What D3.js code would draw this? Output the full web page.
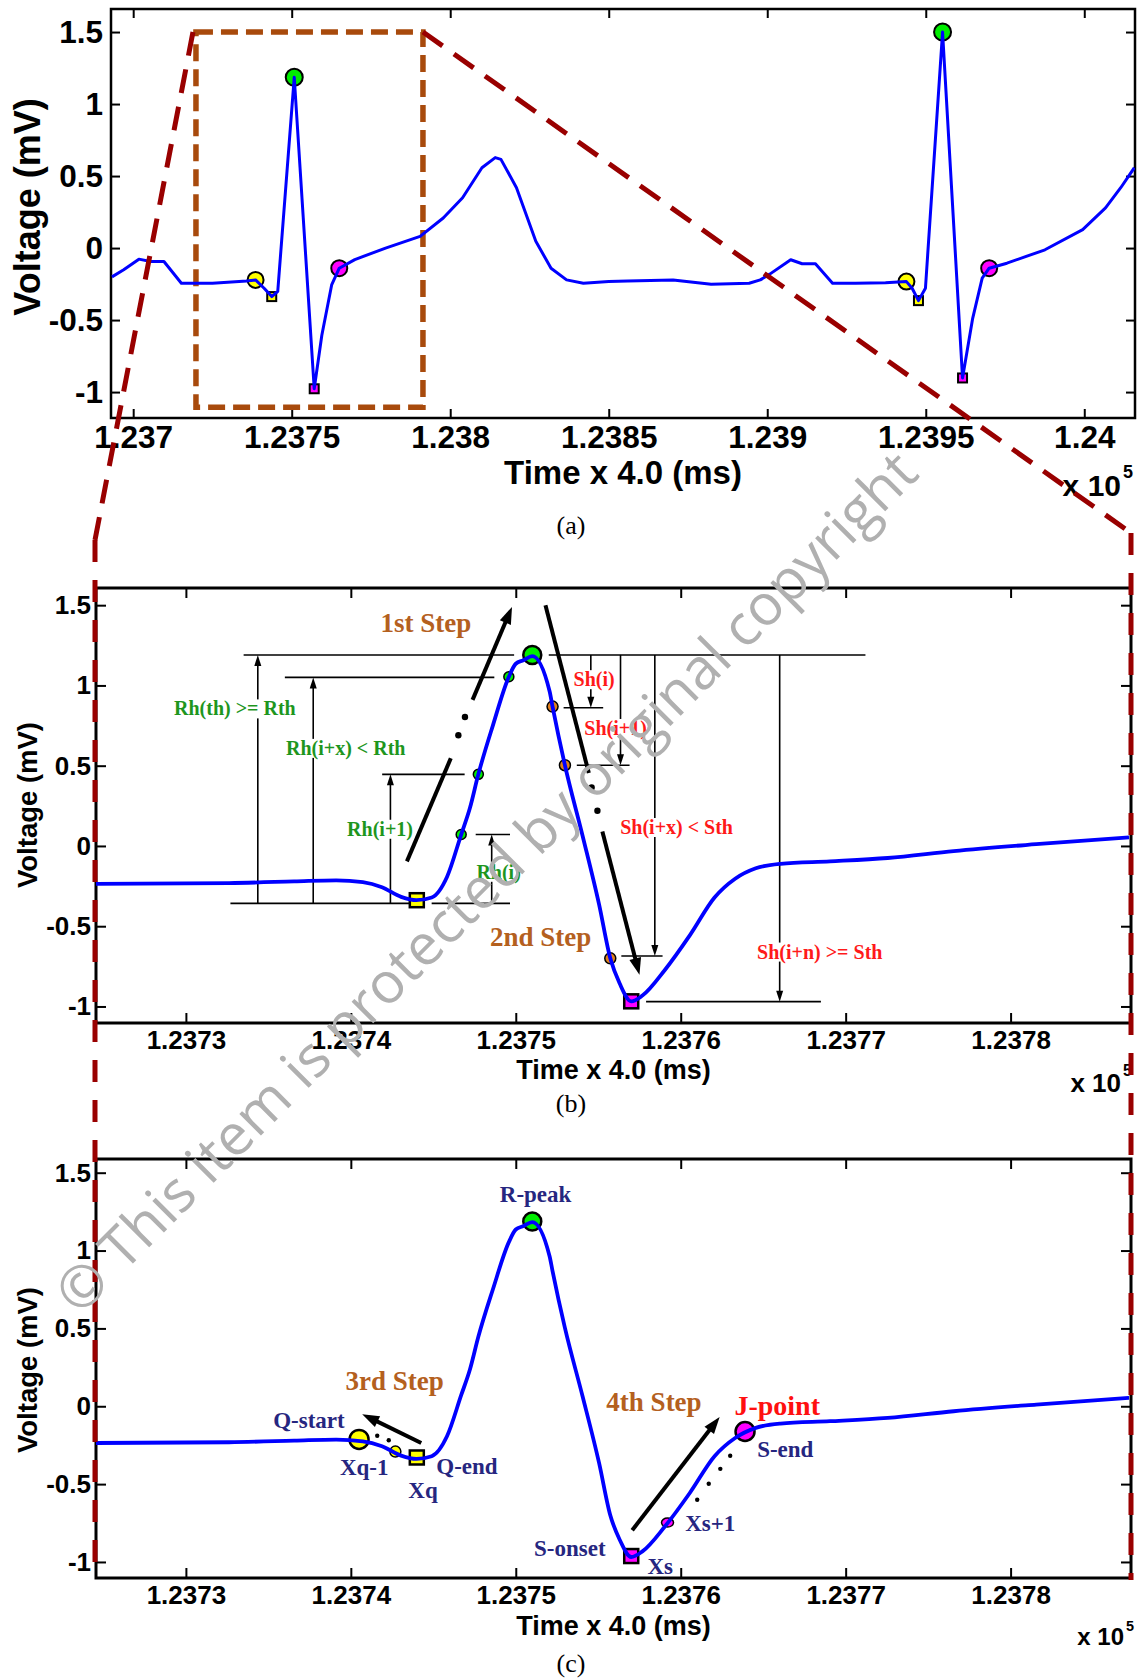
<!DOCTYPE html>
<html><head><meta charset="utf-8">
<script src="https://cdn.jsdelivr.net/npm/d3@7/dist/d3.min.js"></script>
<style>html,body{margin:0;padding:0;background:#fff}svg{display:block}</style>
</head><body>
<svg id="fig" width="1147" height="1680"></svg>
<script>
// ================= DATA =================
// (a) overview ECG (time in units of 1e5 * 4 ms, voltage in mV)
const overviewTime = [1.236933,1.236970,1.237018,1.237055,1.237097,1.237152,1.237250,1.237358,1.237386,1.237413,1.237437,1.237456,1.237508,1.237571,1.237595,1.237626,1.237650,1.237699,1.237796,1.237905,1.237978,1.238039,1.238100,1.238142,1.238160,1.238209,1.238270,1.238318,1.238367,1.238420,1.238500,1.238560,1.238703,1.238823,1.238943,1.238978,1.239008,1.239074,1.239110,1.239152,1.239206,1.239278,1.239373,1.239439,1.239457,1.239477,1.239499,1.239553,1.239616,1.239648,1.239678,1.239700,1.239756,1.239876,1.239995,1.240067,1.240115,1.240158];
const overviewVolt = [-0.20,-0.151,-0.077,-0.093,-0.093,-0.244,-0.244,-0.228,-0.221,-0.279,-0.337,-0.30,1.186,-0.977,-0.605,-0.256,-0.14,-0.08,0.0,0.081,0.209,0.349,0.558,0.628,0.616,0.419,0.047,-0.14,-0.221,-0.244,-0.233,-0.228,-0.221,-0.251,-0.244,-0.221,-0.181,-0.081,-0.109,-0.109,-0.244,-0.244,-0.240,-0.233,-0.279,-0.365,-0.279,1.50,-0.902,-0.488,-0.209,-0.14,-0.105,-0.012,0.128,0.279,0.419,0.558];
const overviewQStart = [[1.237386,-0.221],[1.239439,-0.233]];
const overviewQEnd   = [[1.237437,-0.337],[1.239477,-0.365]];
const overviewR      = [[1.237508,1.186],[1.239553,1.50]];
const overviewS      = [[1.237571,-0.977],[1.239616,-0.902]];
const overviewJ      = [[1.237650,-0.14],[1.239700,-0.14]];
const zoomBoxTime = [1.237198, 1.237914];
const zoomBoxVolt = [-1.105, 1.5];

// (b),(c) zoomed beat
const detailTime = [1.2372451,1.2373262,1.2373656,1.2373911,1.2374073,1.2374189,1.2374305,1.2374397,1.2374490,1.2374583,1.2374669,1.2374722,1.2374773,1.2374861,1.2374958,1.2375000,1.2375046,1.2375100,1.2375205,1.2375223,1.2375298,1.2375405,1.2375505,1.2375573,1.2375630,1.2375700,1.2375768,1.2375905,1.2376055,1.2376205,1.2376330,1.2376455,1.2376605,1.2376905,1.2377255,1.2377655,1.2378155,1.2378718];
const detailVolt = [-0.236,-0.231,-0.221,-0.214,-0.225,-0.257,-0.317,-0.338,-0.321,-0.193,0.071,0.236,0.446,0.75,1.054,1.135,1.157,1.183,0.964,0.868,0.503,0.064,-0.364,-0.700,-0.857,-0.968,-0.932,-0.771,-0.557,-0.321,-0.204,-0.139,-0.111,-0.096,-0.075,-0.032,0.011,0.054];

// ticks
const overviewXTicks = [1.237,1.2375,1.238,1.2385,1.239,1.2395,1.24];
const overviewXTickLabels = ["1.237","1.2375","1.238","1.2385","1.239","1.2395","1.24"];
const detailXTicks = [1.2373,1.2374,1.2375,1.2376,1.2377,1.2378];
const detailXTickLabels = ["1.2373","1.2374","1.2375","1.2376","1.2377","1.2378"];
const yTicks = [-1,-0.5,0,0.5,1,1.5];
const yTickLabels = ["-1","-0.5","0","0.5","1","1.5"];

// (b) annotations: [t, v]
const bQEnd = [[1.23744,-0.338]];
const bR = [[1.23751,1.19]];
const bRisePts = [[1.2374669,0.071],[1.2374773,0.446],[1.2374958,1.054]];
const bFallPts = [[1.2375223,0.868],[1.2375298,0.503],[1.2375573,-0.700]];
const bS = [[1.23757,-0.968]];
const bRefLines = [[1.237335,1.237499,1.19],[1.237520,1.237712,1.19],[1.237360,1.237487,1.05],[1.237419,1.237469,0.446],[1.2374757,1.2374965,0.071],[1.237327,1.237436,-0.358],[1.237449,1.2374965,-0.358],[1.237529,1.237553,0.861],[1.237537,1.237569,0.503],[1.237564,1.237589,-0.686],[1.237579,1.237685,-0.970]];
const bMeasureArrows = [[1.2373436,-0.358,1.19],[1.2373772,-0.358,1.05],[1.237424,-0.358,0.446],[1.2374854,-0.358,0.071],[1.2375455,1.19,0.861],[1.2375635,1.19,0.503],[1.2375843,1.19,-0.686],[1.23766,1.19,-0.97]];
const bStepSegments = [[1.237434,-0.096,1.2374606,0.546,0],[1.2374738,0.910,1.2374977,1.489,1],[1.237518,1.5,1.2375443,0.454,0],[1.2375525,0.090,1.237575,-0.803,1]];
const bStepDots = [[1.2374652,0.690],[1.2374692,0.803],[1.237546,0.364],[1.2375495,0.219]];
const bLabels = [
  ["1st Step",1.2374455,1.388,"step"],["2nd Step",1.2375151,-0.568,"step"],
  ["Rh(th) >= Rth",1.2373297,0.857,"rise"],["Rh(i+x) < Rth",1.2373969,0.611,"rise"],
  ["Rh(i+1)",1.2374177,0.107,"rise"],["Rh(i)",1.2374896,-0.161,"rise"],
  ["Sh(i)",1.2375475,1.039,"fall"],["Sh(i+1)",1.2375605,0.735,"fall"],
  ["Sh(i+x) < Sth",1.2375975,0.118,"fall"],["Sh(i+n) >= Sth",1.2376843,-0.658,"fall"]];

// (c) annotations
const cQStart = [[1.237405,-0.213]];
const cXq1 = [[1.237427,-0.291]];
const cQEnd = [[1.23744,-0.329]];
const cR = [[1.23751,1.187]];
const cSOnset = [[1.23757,-0.962]];
const cXs1 = [[1.237592,-0.747]];
const cJ = [[1.237639,-0.162]];
const cArrows = [[1.2374427,-0.236,1.2374069,-0.051],[1.2375706,-0.796,1.2376236,-0.069]];
const cDots = [[1.237416,-0.189],[1.237423,-0.218],[1.23761,-0.60],[1.237617,-0.498],[1.237624,-0.402],[1.23763,-0.318]];
const cLabels = [
  ["R-peak",1.237512,1.36,"name"],["3rd Step",1.2374265,0.16,"step"],
  ["Q-start",1.2373746,-0.089,"name"],["Xq-1",1.2374081,-0.396,"name"],
  ["Xq",1.2374438,-0.54,"name"],["Q-end",1.2374704,-0.384,"name"],
  ["S-onset",1.2375328,-0.913,"name"],["Xs",1.2375876,-1.029,"name"],
  ["Xs+1",1.2376179,-0.751,"name"],["4th Step",1.2375838,0.027,"step"],
  ["J-point",1.2376585,0.004,"jp"],["S-end",1.2376634,-0.278,"name"]];

// ================= DRAWING =================
const svg = d3.select('#fig');
const SANS = '"Liberation Sans", Arial, Helvetica, sans-serif';
const SERIF = '"Liberation Serif", "Times New Roman", Times, serif';
const COL = {blue:'#0000ff', yellow:'#ffff00', green:'#00ee00', magenta:'#ff00ff', orange:'#e0801c',
  step:'#b4601e', rise:'#1e961e', fall:'#ff1a1a', name:'#262680', jp:'#ff1010', maroon:'#990000', box:'#a84a0c', wm:'#b0b0b0'};

function makePanel(o) {
  const x = d3.scaleLinear().domain(o.xDomain).range([o.left, o.right]);
  const y = d3.scaleLinear().domain(o.yDomain).range([o.bottom, o.top]);
  const g = svg.append('g');
  const style = sel => {
    sel.select('.domain').remove();
    sel.attr('font-size', null).attr('font-family', null);
    sel.selectAll('line').attr('stroke', '#000').attr('stroke-width', 2);
    sel.selectAll('text').attr('fill', '#000').attr('font-family', SANS).attr('font-weight', 'bold').attr('font-size', o.fs);
  };
  g.append('g').attr('transform', `translate(0,${o.bottom})`)
    .call(d3.axisBottom(x).tickValues(o.xTicks).tickFormat((d, i) => o.xTickLabels[i]).tickSize(-o.tick).tickPadding(o.xPad)).call(style);
  g.append('g').attr('transform', `translate(0,${o.top})`)
    .call(d3.axisTop(x).tickValues(o.xTicks).tickFormat(() => '').tickSize(-o.tick)).call(style);
  g.append('g').attr('transform', `translate(${o.left},0)`)
    .call(d3.axisLeft(y).tickValues(yTicks).tickFormat((d, i) => yTickLabels[i]).tickSize(-o.tick).tickPadding(o.yPad)).call(style);
  g.append('g').attr('transform', `translate(${o.right},0)`)
    .call(d3.axisRight(y).tickValues(yTicks).tickFormat(() => '').tickSize(-o.tick)).call(style);
  g.append('rect').attr('x', o.left).attr('y', o.top).attr('width', o.right - o.left).attr('height', o.bottom - o.top)
    .attr('fill', 'none').attr('stroke', '#000').attr('stroke-width', o.frameW);
  // axis labels
  g.append('text').attr('x', (o.left + o.right) / 2).attr('y', o.xLabelY).attr('text-anchor', 'middle')
    .attr('font-family', SANS).attr('font-weight', 'bold').attr('font-size', o.lfs).text('Time x 4.0 (ms)');
  g.append('text').attr('transform', `translate(${o.yLabelX},${o.yLabelY}) rotate(-90)`).attr('text-anchor', 'middle')
    .attr('dominant-baseline', 'central').attr('font-family', SANS).attr('font-weight', 'bold').attr('font-size', o.ylfs).text('Voltage (mV)');
  g.append('text').attr('x', o.expX).attr('y', o.expY).attr('text-anchor', 'end')
    .attr('font-family', SANS).attr('font-weight', 'bold').attr('font-size', o.efs).text('x 10');
  g.append('text').attr('x', o.expX + 2).attr('y', o.expY - o.efs * 0.6).attr('text-anchor', 'start')
    .attr('font-family', SANS).attr('font-weight', 'bold').attr('font-size', o.efs * 0.6).text('5');
  g.append('text').attr('x', 571).attr('y', o.capY).attr('text-anchor', 'middle').attr('dominant-baseline', 'central')
    .attr('font-family', SERIF).attr('font-size', 26).text(o.cap);
  // clip
  const id = 'clip' + o.cap.replace(/\W/g, '');
  svg.append('clipPath').attr('id', id).append('rect').attr('x', o.left).attr('y', o.top)
    .attr('width', o.right - o.left).attr('height', o.bottom - o.top);
  const plot = g.append('g');
  const lineG = g.append('g').attr('clip-path', `url(#${id})`);
  return {x, y, g: plot, lineG};
}

function drawSignal(P, t, v, width, curve) {
  P.lineG.append('path').datum(d3.zip(t, v))
    .attr('d', d3.line().x(d => P.x(d[0])).y(d => P.y(d[1])).curve(curve))
    .attr('fill', 'none').attr('stroke', COL.blue).attr('stroke-width', width).attr('stroke-linejoin', 'round');
}
function circles(P, pts, r, fill, sw = 2) {
  P.g.selectAll(null).data(pts).enter().append('circle')
    .attr('cx', d => P.x(d[0])).attr('cy', d => P.y(d[1])).attr('r', r)
    .attr('fill', fill).attr('stroke', '#000').attr('stroke-width', sw);
}
function squares(P, pts, s, fill, sw = 2) {
  P.g.selectAll(null).data(pts).enter().append('rect')
    .attr('x', d => P.x(d[0]) - s / 2).attr('y', d => P.y(d[1]) - s / 2).attr('width', s).attr('height', s)
    .attr('fill', fill).attr('stroke', '#000').attr('stroke-width', sw);
}
function dots(P, pts, r) {
  P.g.selectAll(null).data(pts).enter().append('circle')
    .attr('cx', d => P.x(d[0])).attr('cy', d => P.y(d[1])).attr('r', r).attr('fill', '#000');
}
function arrow(g, x1, y1, x2, y2, w, hl, hw, head) {
  const a = Math.atan2(y2 - y1, x2 - x1);
  const bx = x2 - hl * Math.cos(a), by = y2 - hl * Math.sin(a);
  g.append('line').attr('x1', x1).attr('y1', y1).attr('x2', head ? x2 - hl * 0.6 * Math.cos(a) : x2)
    .attr('y2', head ? y2 - hl * 0.6 * Math.sin(a) : y2).attr('stroke', '#000').attr('stroke-width', w);
  if (head) {
    const px = -Math.sin(a) * hw / 2, py = Math.cos(a) * hw / 2;
    g.append('path').attr('d', `M${x2},${y2}L${bx + px},${by + py}L${bx - px},${by - py}Z`).attr('fill', '#000');
  }
}
function labelText(P, txt, t, v, color, size, bg) {
  const el = P.g.append('text').attr('x', P.x(t)).attr('y', P.y(v)).attr('text-anchor', 'middle')
    .attr('dominant-baseline', 'central').attr('font-family', SERIF).attr('font-weight', 'bold')
    .attr('font-size', size).attr('fill', color).text(txt);
  if (bg) {
    const bb = el.node().getBBox();
    P.g.insert('rect', () => el.node()).attr('x', bb.x - 1).attr('y', bb.y + 2).attr('width', bb.width + 2)
      .attr('height', bb.height - 4).attr('fill', '#fff');
  }
}

// ---- panel (a)
const A = makePanel({left:111, right:1135, top:9, bottom:418, xDomain:[1.23693,1.24016], yDomain:[-1.18,1.66],
  xTicks:overviewXTicks, xTickLabels:overviewXTickLabels, tick:9, fs:31.5, lfs:33, ylfs:36, efs:30, xPad:8, yPad:8, frameW:2.5,
  xLabelY:484, yLabelX:27, yLabelY:207, expX:1121, expY:496, capY:525, cap:'(a)'});
drawSignal(A, overviewTime, overviewVolt, 3, d3.curveLinear);
circles(A, overviewQStart, 8, COL.yellow);
squares(A, overviewQEnd, 9, COL.yellow);
circles(A, overviewR, 8.5, COL.green);
squares(A, overviewS, 9, COL.magenta);
circles(A, overviewJ, 8, COL.magenta);
A.g.append('rect').attr('x', A.x(zoomBoxTime[0])).attr('y', A.y(zoomBoxVolt[1]))
  .attr('width', A.x(zoomBoxTime[1]) - A.x(zoomBoxTime[0])).attr('height', A.y(zoomBoxVolt[0]) - A.y(zoomBoxVolt[1]))
  .attr('fill', 'none').attr('stroke', COL.box).attr('stroke-width', 5.5).attr('stroke-dasharray', '17 8');

// ---- panel (b)
const B = makePanel({left:96, right:1131, top:588, bottom:1023, xDomain:[1.2372455,1.237873], yDomain:[-1.103,1.607],
  xTicks:detailXTicks, xTickLabels:detailXTickLabels, tick:10, fs:26, lfs:27, ylfs:27.5, efs:26, xPad:8, yPad:5, frameW:3,
  xLabelY:1079, yLabelX:27, yLabelY:805, expX:1121, expY:1092, capY:1103, cap:'(b)'});
bRefLines.forEach(d => B.g.append('line').attr('x1', B.x(d[0])).attr('x2', B.x(d[1])).attr('y1', B.y(d[2])).attr('y2', B.y(d[2]))
  .attr('stroke', '#000').attr('stroke-width', 1.6));
bMeasureArrows.forEach(d => arrow(B.g, B.x(d[0]), B.y(d[1]), B.x(d[0]), B.y(d[2]), 1.6, 11, 7, true));
bStepSegments.forEach(d => arrow(B.g, B.x(d[0]), B.y(d[1]), B.x(d[2]), B.y(d[3]), 4, 17, 12, d[4] === 1));
dots(B, bStepDots, 3.2);
drawSignal(B, detailTime, detailVolt, 3.8, d3.curveMonotoneX);
squares(B, bQEnd, 14, COL.yellow, 2.5);
circles(B, bRisePts, 5, COL.green, 1.5);
circles(B, bFallPts, 5.5, COL.orange, 1.5);
circles(B, bR, 9, COL.green, 2.5);
squares(B, bS, 14, COL.magenta, 2.5);
bLabels.forEach(d => labelText(B, d[0], d[1], d[2], COL[d[3]], d[3] === 'step' ? 27 : 20, d[3] !== 'step'));

// ---- panel (c)
const C = makePanel({left:96, right:1131, top:1159, bottom:1578, xDomain:[1.2372455,1.237873], yDomain:[-1.103,1.588],
  xTicks:detailXTicks, xTickLabels:detailXTickLabels, tick:10, fs:26, lfs:27, ylfs:27.5, efs:24, xPad:8, yPad:5, frameW:3,
  xLabelY:1635, yLabelX:27, yLabelY:1370, expX:1124, expY:1645, capY:1663, cap:'(c)'});
drawSignal(C, detailTime, detailVolt, 3.8, d3.curveMonotoneX);
cArrows.forEach(d => arrow(C.g, C.x(d[0]), C.y(d[1]), C.x(d[2]), C.y(d[3]), 4, 17, 12, true));
dots(C, cDots, 2.2);
circles(C, cQStart, 9.5, COL.yellow, 2.5);
circles(C, cXq1, 5.5, COL.yellow, 1.5);
squares(C, cQEnd, 14, COL.yellow, 2.5);
circles(C, cR, 9, COL.green, 2.5);
squares(C, cSOnset, 14, COL.magenta, 2.5);
C.g.selectAll(null).data(cXs1).enter().append('ellipse').attr('cx', d => C.x(d[0])).attr('cy', d => C.y(d[1]))
  .attr('rx', 6).attr('ry', 4.5).attr('fill', COL.magenta).attr('stroke', '#000').attr('stroke-width', 1.5);
circles(C, cJ, 9.5, COL.magenta, 2.5);
cLabels.forEach(d => labelText(C, d[0], d[1], d[2], COL[d[3]], d[3] === 'step' ? 27 : d[3] === 'jp' ? 28 : 23, false));

// ---- zoom connector dashed lines (from the (a) box corners down the sides of (b) and (c))
const conn = svg.append('g').attr('fill', 'none').attr('stroke', COL.maroon).attr('stroke-width', 5);
const bendLeftY = 540, bendRightY = 533;
conn.append('line').attr('x1', A.x(zoomBoxTime[0]) - 3).attr('y1', A.y(zoomBoxVolt[1])).attr('x2', B.x.range()[0] - 1).attr('y2', bendLeftY)
  .attr('stroke-dasharray', '24 14');
conn.append('line').attr('x1', A.x(zoomBoxTime[1])).attr('y1', A.y(zoomBoxVolt[1])).attr('x2', B.x.range()[1]).attr('y2', bendRightY)
  .attr('stroke-dasharray', '24 14');
conn.append('line').attr('x1', B.x.range()[0] - 1).attr('y1', bendLeftY).attr('x2', B.x.range()[0] - 1).attr('y2', C.y.range()[0] + 2)
  .attr('stroke-dasharray', '22 18');
conn.append('line').attr('x1', B.x.range()[1]).attr('y1', bendRightY).attr('x2', B.x.range()[1]).attr('y2', C.y.range()[0] + 2)
  .attr('stroke-dasharray', '22 18');

// ---- watermark
svg.append('text').attr('transform', 'translate(79.5,1317) rotate(-45)')
  .attr('font-family', '"Open Sans", "Noto Sans", sans-serif').attr('font-size', 57).attr('fill', COL.wm)
  .text('\u00A9 This item is protected by original copyright');
</script>
</body></html>
